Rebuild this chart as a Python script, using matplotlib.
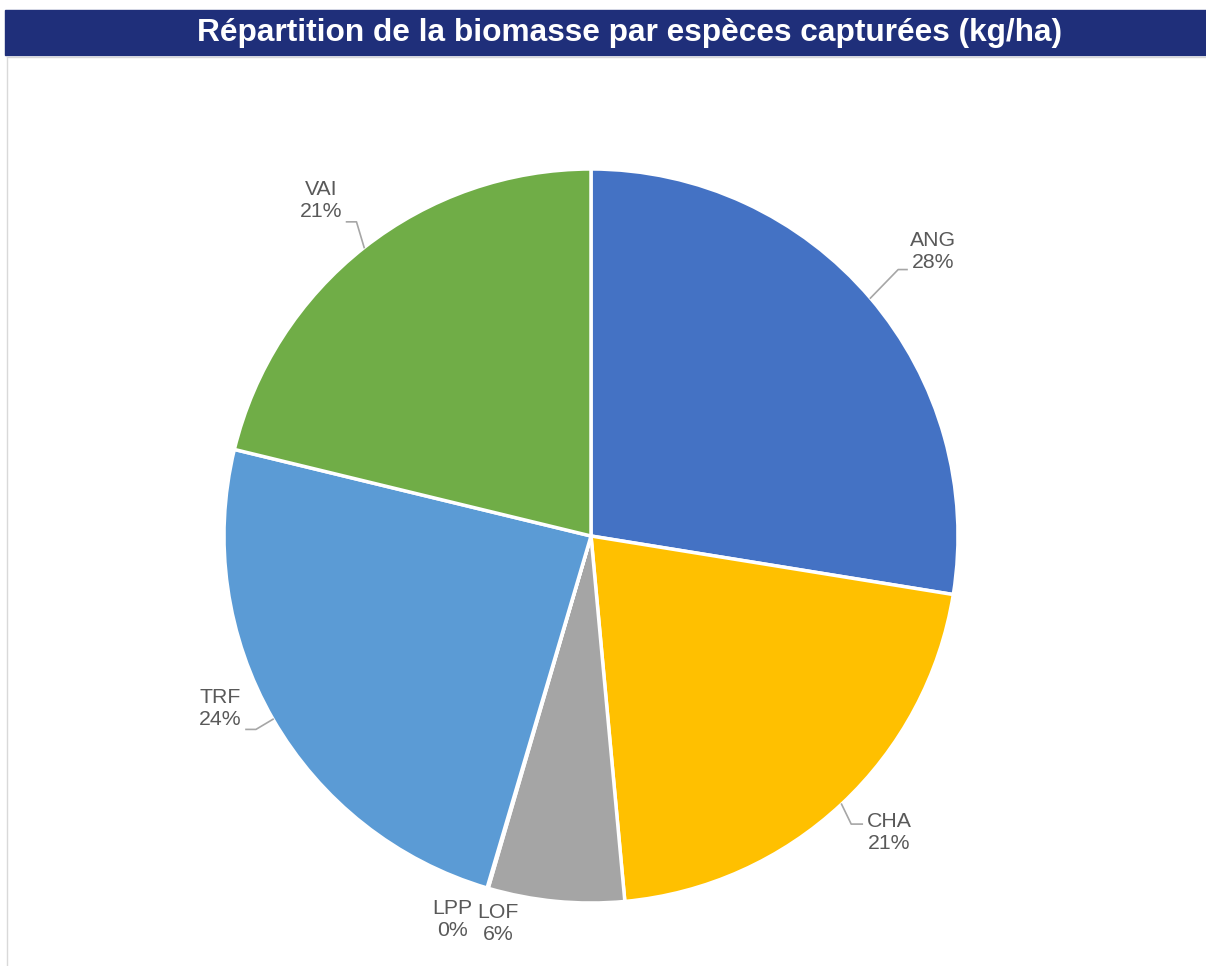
import numpy as np
import matplotlib
matplotlib.use("Agg")
import matplotlib.pyplot as plt
from matplotlib.patches import Rectangle

plt.rcParams['font.family'] = ['Liberation Sans', 'DejaVu Sans']

# --- data (kg/ha share) ---
species = ["ANG", "CHA", "LOF", "LPP", "TRF", "VAI"]
biomass = [27.55, 20.98, 5.99, 0.05, 24.22, 21.21]
colors = ["#4472C4", "#FFC000", "#A5A5A5", "#ED7D31", "#5B9BD5", "#70AD47"]

# label placement (data coords, pie radius = 1), elbow of leader line, line end
label_pos = {
    "ANG": ((0.932, 0.774), (0.837, 0.726), (0.861, 0.726)),
    "CHA": ((0.812, -0.807), (0.709, -0.785), (0.739, -0.785)),
    "LOF": ((-0.253, -1.057), None, None),
    "LPP": ((-0.378, -1.046), None, None),
    "TRF": ((-1.011, -0.470), (-0.913, -0.527), (-0.940, -0.527)),
    "VAI": ((-0.736, 0.913), (-0.639, 0.856), (-0.666, 0.856)),
}

fig = plt.figure(figsize=(12.06, 9.66), dpi=100)

# title bar
fig.patches.append(Rectangle((5 / 1206, 1 - 55 / 966), 1 - 5 / 1206, 45 / 966,
                             transform=fig.transFigure, color="#1F2F7A", zorder=0))
fig.text(630 / 1206, 1 - 33 / 966, "Répartition de la biomasse par espèces capturées (kg/ha)",
         color="white", fontsize=22.8, fontweight="bold", ha="center", va="center")

# chart area border
fig.lines.append(plt.Line2D([7 / 1206, 1], [1 - 57 / 966, 1 - 57 / 966],
                            transform=fig.transFigure, color="#D9D9D9", lw=1))
fig.lines.append(plt.Line2D([7 / 1206, 7 / 1206], [0, 1 - 57 / 966],
                            transform=fig.transFigure, color="#D9D9D9", lw=1))

ax = fig.add_axes([0.18574, 0.06522, 0.60862, 0.75983])
wedges, _ = ax.pie(biomass, colors=colors, startangle=90, counterclock=False,
                   wedgeprops=dict(edgecolor="white", linewidth=2.5), radius=1)
ax.set_xlim(-1, 1)
ax.set_ylim(-1, 1)
ax.set_aspect("equal")
ax.axis("off")

total = sum(biomass)
for w, name, val in zip(wedges, species, biomass):
    pct = val / total * 100
    (tx, ty), elbow, end = label_pos[name]
    ax.text(tx, ty, f"{name}\n{pct:.0f}%", ha="center", va="center", fontsize=15.3,
            color="#595959", linespacing=1.2, clip_on=False)
    if elbow is not None:
        mid = np.deg2rad((w.theta1 + w.theta2) / 2)
        ex, ey = np.cos(mid), np.sin(mid)
        ax.plot([ex, elbow[0], end[0]], [ey, elbow[1], end[1]], color="#A6A6A6",
                lw=1.2, clip_on=False)

fig.savefig("out.png", dpi=100)
